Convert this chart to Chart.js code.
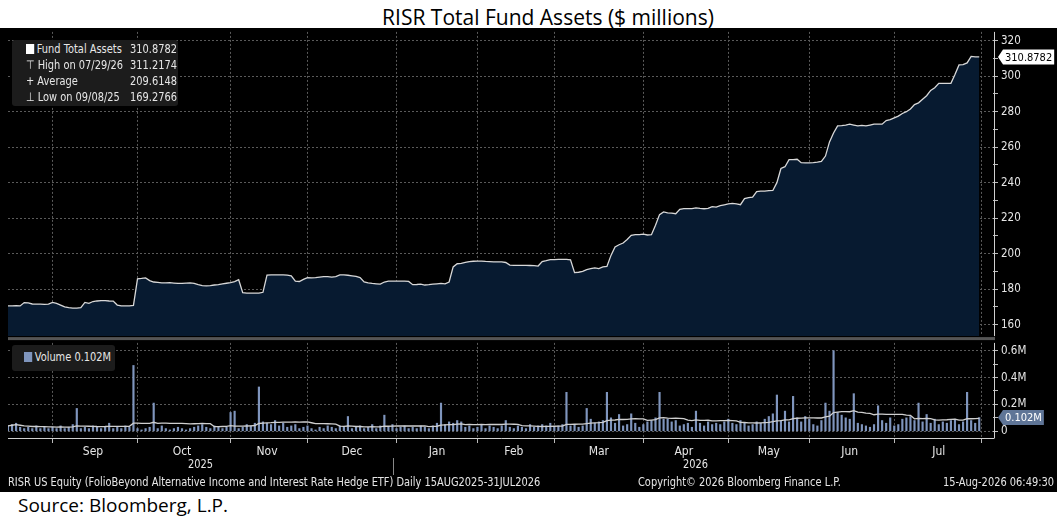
<!DOCTYPE html>
<html><head><meta charset="utf-8">
<script src="https://cdn.jsdelivr.net/npm/chart.js@4"></script>
<style>
body{margin:0;background:#fff;width:1064px;height:525px;position:relative;overflow:hidden;font-family:'Open Sans',sans-serif}
#title{position:absolute;left:0;width:1096px;top:3px;text-align:center;font-size:21px;color:#000}
#src{position:absolute;left:18px;top:492px;font-size:19px;color:#000}
#frame{position:absolute;left:0;top:28px;width:1057px;height:464px;background:#000}
.bb{font-family:'DejaVu Sans',sans-serif;color:#e6e6e6;position:absolute;font-size:12px;white-space:nowrap;transform:scaleX(0.82);transform-origin:0 0}
.lg{background:#1c1c1c;border-radius:3px;position:absolute}
.sq{display:inline-block;width:10px;height:10px;vertical-align:-1px;margin-right:3px}
</style></head><body>
<div id="title">RISR Total Fund Assets ($ millions)</div>
<div id="frame"></div>
<div style="position:absolute;left:0;top:22px;width:1057px;height:324px"><canvas id="c1" width="1057" height="324"></canvas></div>
<div style="position:absolute;left:0;top:333px;width:1057px;height:125px"><canvas id="c2" width="1057" height="125"></canvas></div>
<div class="lg" style="left:12px;top:40px;width:166px;height:66px"></div>
<div class="bb" style="left:26px;top:42px"><span class="sq" style="background:#fff"></span>Fund Total Assets</div><div class="bb" style="left:130px;top:42px">310.8782</div>
<div class="bb" style="left:26px;top:58px">&#8868; High on 07/29/26</div><div class="bb" style="left:130px;top:58px">311.2174</div>
<div class="bb" style="left:26px;top:74px">+ Average</div><div class="bb" style="left:130px;top:74px">209.6148</div>
<div class="bb" style="left:26px;top:90px">&#8869; Low on 09/08/25</div><div class="bb" style="left:130px;top:90px">169.2766</div>
<div class="lg" style="left:12px;top:345px;width:103px;height:26px"></div>
<div class="bb" style="left:24px;top:350px"><span class="sq" style="background:#7f95bd"></span>Volume 0.102M</div>
<div class="bb" style="left:188px;top:457px">2025</div>
<div class="bb" style="left:683px;top:457px">2026</div>
<div style="position:absolute;left:393px;top:458px;width:1px;height:17px;background:#888"></div>
<div class="bb" style="left:8px;top:475px">RISR US Equity (FolioBeyond Alternative Income and Interest Rate Hedge ETF) Daily 15AUG2025-31JUL2026</div>
<div class="bb" style="left:638px;top:475px">Copyright&copy; 2026 Bloomberg Finance L.P.</div>
<div class="bb" style="left:943px;top:475px">15-Aug-2026 06:49:30</div>
<div id="src">Source: Bloomberg, L.P.</div>
<script>
const holidays=['2025-09-01','2025-11-27','2025-12-25','2026-01-01','2026-01-19','2026-02-16','2026-04-03','2026-05-25','2026-06-19','2026-07-03'];
const monthNames=['Jan','Feb','Mar','Apr','May','Jun','Jul','Aug','Sep','Oct','Nov','Dec'];
const assets=[170.5,170.5,170.6,170.5,
172.4,172.2,171.6,171.5,171.5,171.4,171.5,
172.5,172,171,170,
169.5,169.2766,169.3,169.6,
172.5,172,
173,173.3,173.5,173.5,173.3,173.2,
171,170.5,170.5,170.5,170.8,
185.8,186,186.3,184.8,
184,183.8,183.5,183.5,183.6,183.4,183.2,183.2,183.4,183.5,183.2,182.5,
182,181.8,182,182.3,182.5,183,
183.3,183.6,184.2,185.3,
178,177.7,177.7,177.7,177.7,178.2,
187.9,188,188,188,188,187.9,187.5,
184.5,184.3,
185.5,186.5,186.3,186.5,186.8,187,187,186.8,187,
188,188,187.8,187.5,187.2,186.5,
184,183.5,183.2,183,182.8,
184,184.5,184.5,184.5,184.5,184.5,184.3,
182.5,182.6,182.8,182.3,182.5,182.8,183,183.2,183,
184,192.5,194.3,194.5,195,195.5,
195.7,195.8,195.8,195.6,195.5,195.4,195.4,
195.3,195,
193.5,193.4,193.4,193.4,193.4,193.3,193.2,193,
195.5,196,196.6,196.6,196.7,196.8,196.8,196.5,
189.3,189.5,190,191,191.5,192,191.6,192.5,192.8,
199,203.8,205,206,208,
210.3,210.7,210.7,211,210.5,210.7,
216,222,223.5,223,222.8,222.5,
225,225.4,225.4,225.4,225.8,225.5,225.3,225.5,
226.5,226.2,227,227.5,228,228.3,228,227.6,
231,231.6,231.8,235,235.2,235.2,235.5,235.6,
240,248,249,253,253,253.2,
251.3,251.2,251.2,251.3,251.6,252,
255,263,268,272,
272.2,272.5,273,272.5,272,272.3,272,272.5,273,273,273,
275,275.5,276.5,277.5,279,280,281.5,
284,285,287,289,292,293.5,
296,296,296,296,
301,306.4,306.5,307.5,311.2174,310.9,310.8782];
const volume=[.04,.05,.06,.03,.02,.03,.02,.04,.02,.03,
.02,.03,.02,.04,.02,.03,.05,.17,.02,.03,
.02,.04,.03,.02,.03,.06,.02,.03,.02,.04,
.03,.49,.02,.01,.02,.03,.21,.02,.04,.02,
.01,.02,.03,.02,.01,.02,.03,.04,.05,.03,
.02,.04,.03,.02,.03,.14,.15,.02,.03,.05,
.04,.06,.33,.07,.06,.05,.08,.04,.06,.03,
.04,.05,.02,.03,.04,.02,.01,.03,.02,.04,
.03,.02,.04,.03,.11,.02,.03,.04,.02,.03,
.05,.02,.04,.12,.03,.05,.02,.03,.04,.02,
.03,.02,.04,.03,.02,.04,.06,.21,.05,.07,
.06,.08,.07,.03,.04,.02,.03,.05,.02,.04,
.03,.02,.04,.08,.03,.02,.04,.03,.02,.05,
.03,.04,.05,.04,.06,.03,.04,.05,.29,.04,
.05,.03,.04,.17,.09,.06,.07,.08,.29,.10,
.06,.125,.04,.05,.13,.06,.03,.05,.07,.08,
.10,.29,.09,.09,.07,.08,.04,.05,.06,.03,
.15,.06,.04,.07,.05,.06,.05,.07,.09,.06,
.05,.08,.06,.04,.05,.07,.06,.09,.11,.13,
.27,.08,.15,.07,.26,.10,.07,.11,.09,.05,
.04,.08,.21,.15,.60,.14,.12,.10,.09,.28,
.06,.05,.04,.03,.05,.19,.08,.06,.10,.04,
.05,.09,.10,.11,.08,.21,.07,.125,.06,.09,
.05,.07,.06,.08,.09,.05,.07,.29,.08,.06,
.102];
const lastAssets='310.8782', lastVolume='0.102M';

const days=[];
for(let d=new Date(Date.UTC(2025,7,15));d<=new Date(Date.UTC(2026,6,31));d.setUTCDate(d.getUTCDate()+1)){
  const wd=d.getUTCDay(); const s=d.toISOString().slice(0,10);
  if(wd>0&&wd<6&&!holidays.includes(s)) days.push(new Date(d));
}
const monthStarts=[],monthMids=[],monthLbl={};
let cur=-1;
days.forEach((d,i)=>{const m=d.getUTCMonth(); if(m!==cur){ if(i>0)monthStarts.push(i); cur=m;}});
monthStarts.forEach((s,k)=>{const e=k+1<monthStarts.length?monthStarts[k+1]:days.length; const mid=Math.round((s+e-1)/2); monthMids.push(mid); monthLbl[mid]=monthNames[days[s].getUTCMonth()];});
const gridStarts=monthStarts.concat([days.length-0.5]);
const sma=volume.map((v,i)=>{const a=volume.slice(Math.max(0,i-19),i+1);return a.reduce((x,y)=>x+y,0)/a.length;});
const XMAX=243.4;
const FONT="'DejaVu Sans Condensed','DejaVu Sans',sans-serif";
Chart.defaults.font.family=FONT; Chart.defaults.color='#e6e6e6';

function tagPlugin(id,getVal,text,bg,fg){return{id,afterDatasetsDraw(ch){
  const y=ch.scales.y.getPixelForValue(getVal()),x=ch.chartArea.right+5,ctx=ch.ctx;
  ctx.save();ctx.font='11px '+FONT;const w=ctx.measureText(text).width+4,h=15;
  ctx.fillStyle=bg;ctx.beginPath();ctx.moveTo(x,y);ctx.lineTo(x+5,y-h/2);ctx.lineTo(x+5+w,y-h/2);ctx.lineTo(x+5+w,y+h/2);ctx.lineTo(x+5,y+h/2);ctx.closePath();ctx.fill();
  ctx.fillStyle=fg;ctx.textBaseline='middle';ctx.fillText(text,x+7,y+1);ctx.restore();}}}
const axisLine={id:'axl',afterDraw(ch){const a=ch.chartArea,c=ch.ctx;c.save();c.strokeStyle='#cfcfcf';c.lineWidth=1;c.beginPath();c.moveTo(a.right+1.5,a.top);c.lineTo(a.right+1.5,a.bottom);c.stroke();
  if(ch.canvas.id==='c2'){c.beginPath();c.moveTo(a.left,a.bottom+0.5);c.lineTo(a.right+1.5,a.bottom+0.5);c.stroke();}
  else{c.fillStyle='#555';c.fillRect(a.left,a.bottom+1,a.right-a.left+2,3);}c.restore();}};

const isGrid=c=>c.tick&&gridStarts.includes(c.tick.value);
const xBase=(showLabels)=>({type:'linear',min:0,max:XMAX,offset:false,
  afterBuildTicks:s=>{s.ticks=(showLabels?gridStarts.concat(monthMids).sort((a,b)=>a-b):gridStarts).map(v=>({value:v}));},
  ticks:{display:showLabels,autoSkip:false,maxRotation:0,padding:2,font:{size:12},color:'#e6e6e6',callback:v=>monthLbl[v]||''},
  grid:{offset:false,color:c=>isGrid(c)?'#5a5a5a':'rgba(0,0,0,0)',drawTicks:showLabels,tickLength:5,tickColor:c=>isGrid(c)?'#bbb':'rgba(0,0,0,0)'},
  border:{display:false,dash:[2,2]},
  afterFit:s=>{s.height=showLabels?20:0;}});

new Chart(document.getElementById('c1'),{type:'line',
 data:{datasets:[{data:assets.map((v,i)=>({x:i,y:v})),borderColor:'#d8d8d8',borderWidth:1.3,pointRadius:0,fill:'origin',backgroundColor:'#071a30',tension:0}]},
 options:{responsive:false,animation:false,layout:{padding:{left:8,top:2,bottom:3}},plugins:{legend:{display:false},tooltip:{enabled:false}},
  scales:{x:xBase(false),
   y:{position:'right',min:153.5,max:325,afterBuildTicks:s=>{const t=[];for(let v=160;v<=320;v+=10)t.push({value:v});s.ticks=t;},
    ticks:{autoSkip:false,padding:3,font:{size:11.5},color:'#e6e6e6',callback:v=>v%20===0?v:''},
    grid:{color:c=>c.tick&&c.tick.value%20===0?'#5a5a5a':'rgba(0,0,0,0)',tickLength:5,tickColor:'#bbb'},
    border:{display:false,dash:[2,2]},afterFit:s=>{s.width=64;}}}},
 plugins:[axisLine,tagPlugin('t1',()=>assets[assets.length-1],lastAssets,'#ffffff','#000')]});

new Chart(document.getElementById('c2'),{type:'bar',
 data:{datasets:[
  {type:'line',data:sma.map((v,i)=>({x:i,y:v})),borderColor:'#cfcfcf',borderWidth:1.3,pointRadius:0,tension:0},
  {data:volume.map((v,i)=>({x:i,y:v})),backgroundColor:'#7f95bd',barThickness:1.5}]},
 options:{responsive:false,animation:false,layout:{padding:{left:8,top:2}},plugins:{legend:{display:false},tooltip:{enabled:false}},
  scales:{x:xBase(true),
   y:{position:'right',min:-0.05,max:0.658,afterBuildTicks:s=>{const t=[];for(let k=0;k<=6;k++)t.push({value:k/10});s.ticks=t;},
    ticks:{autoSkip:false,padding:3,font:{size:11.5},color:'#e6e6e6',callback:v=>v===0?'0':(Math.round(v*10)%2===0?(Math.round(v*10)/10)+'M':'')},
    grid:{color:c=>c.tick&&Math.round(c.tick.value*10)%2===0?'#5a5a5a':'rgba(0,0,0,0)',tickLength:5,tickColor:'#bbb'},
    border:{display:false,dash:[2,2]},afterFit:s=>{s.width=64;}}}},
 plugins:[axisLine,tagPlugin('t2',()=>volume[volume.length-1],lastVolume,'#5f7597','#fff')]});
</script></body></html>
